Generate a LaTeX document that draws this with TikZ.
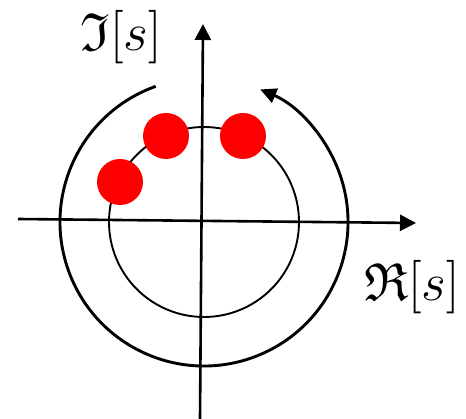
\documentclass[tikz,border=0pt]{standalone}
\usepackage{amssymb}
\usepackage{graphicx}
\usetikzlibrary{arrows.meta,calc}
\begin{document}
\begin{tikzpicture}[x=1pt,y=-1pt,
  axis/.style={line width=2.6pt,-{Triangle[length=16pt,width=16pt]}},
  pole/.style={circle,fill=red,minimum size=46pt,inner sep=0pt},
  lbl/.style={inner sep=0pt}]
\useasboundingbox (0,0) rectangle (466,419);
\coordinate (O) at (204,222);
% inner circle
\draw[line width=1.9pt] (O) circle[radius=95];
% outer arc with arrow
\draw[line width=2.9pt,-{Triangle[length=16pt,width=15pt]}] ($(O)+(-109.6:144)$) arc[start angle=-109.6,end angle=-427,radius=144];
% axes
\coordinate (xl) at (18,219);
\coordinate (xr) at (416,223);
\coordinate (yb) at (200,419);
\coordinate (yt) at (203,24);
\draw[axis] (xl) -- (xr);
\draw[axis] (yb) -- (yt);
% poles
\node[pole] (p1) at (166,136) {};
\node[pole] (p2) at (243,136) {};
\node[pole] (p3) at (120,182) {};
% labels
\node[lbl] (im) at (121,37) {\scalebox{2.15}{\Huge$\mathfrak{I}[s]$}};
\node[lbl] (re) at (412,287) {\scalebox{2.15}{\Huge$\mathfrak{R}[s]$}};
\end{tikzpicture}
\end{document}
